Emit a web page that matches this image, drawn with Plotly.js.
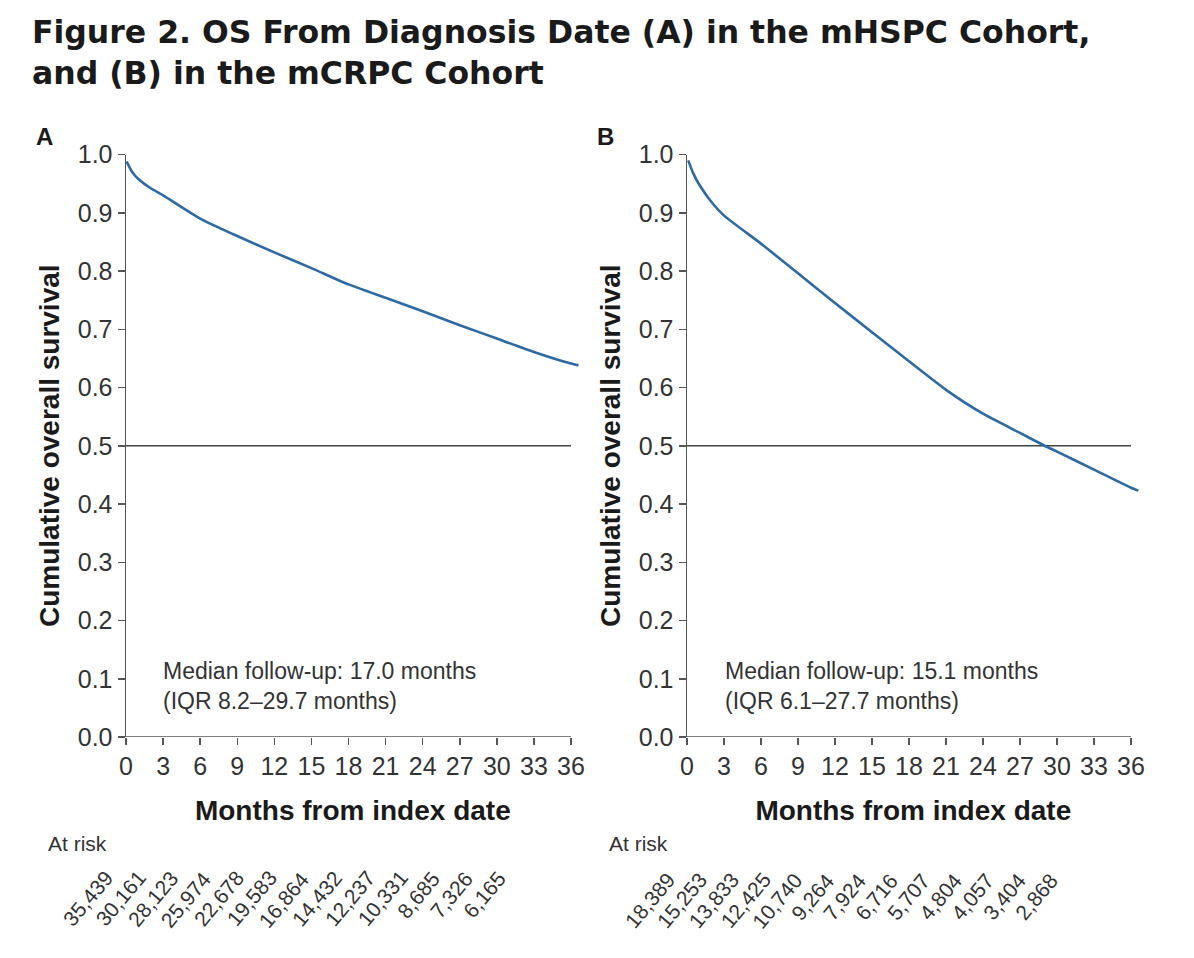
<!DOCTYPE html>
<html>
<head>
<meta charset="utf-8">
<script src="https://cdn.plot.ly/plotly-3.0.1.min.js"></script>
<style>
  html, body { margin: 0; padding: 0; background: #fff; }
  #chart { width: 1194px; height: 958px; }
</style>
</head>
<body>
<div id="chart"></div>
<script>
// ---- Data ----
const monthsA = [0.05, 0.5, 1, 2, 3, 6, 9, 12, 15, 18, 21, 24, 27, 30, 33, 36, 36.6];
const survivalA = [0.988, 0.970, 0.958, 0.942, 0.930, 0.890, 0.860, 0.832, 0.805, 0.777, 0.754, 0.731, 0.707, 0.684, 0.661, 0.641, 0.638];

const monthsB = [0.1, 0.5, 1, 2, 3, 6, 9, 12, 15, 18, 21, 24, 27, 29, 30, 33, 36, 36.6];
const survivalB = [0.99, 0.968, 0.948, 0.918, 0.895, 0.847, 0.796, 0.745, 0.695, 0.645, 0.596, 0.555, 0.522, 0.500, 0.490, 0.459, 0.428, 0.423];

const riskMonths = [0, 3, 6, 9, 12, 15, 18, 21, 24, 27, 30, 33, 36];
const atRiskA = ["35,439", "30,161", "28,123", "25,974", "22,678", "19,583", "16,864", "14,432", "12,237", "10,331", "8,685", "7,326", "6,165"];
const atRiskB = ["18,389", "15,253", "13,833", "12,425", "10,740", "9,264", "7,924", "6,716", "5,707", "4,804", "4,057", "3,404", "2,868"];

const medianRef = 0.5;
const xTickVals = [0, 3, 6, 9, 12, 15, 18, 21, 24, 27, 30, 33, 36];
const yTickVals = [0, 0.1, 0.2, 0.3, 0.4, 0.5, 0.6, 0.7, 0.8, 0.9, 1.0];

const panelLabels = ["A", "B"];
const noteA = "Median follow-up: 17.0 months<br>(IQR 8.2–29.7 months)";
const noteB = "Median follow-up: 15.1 months<br>(IQR 6.1–27.7 months)";
const titleText = "Figure 2. OS From Diagnosis Date (A) in the mHSPC Cohort,<br>and (B) in the mCRPC Cohort";

// ---- Page geometry ----
const W = 1194, H = 958;
const px = v => v / W;
const py = v => 1 - v / H;

const FONT = "Liberation Sans, Arial, Helvetica, sans-serif";
const TITLE_FONT = "DejaVu Sans, Liberation Sans, Arial, sans-serif";
const curveColor = "#2d6aa5";
const axisColor = "#555555";
const textColor = "#333333";

const traces = [
  { x: monthsA, y: survivalA, xaxis: "x", yaxis: "y", type: "scatter", mode: "lines",
    line: { color: curveColor, width: 2.6, shape: "spline", smoothing: 0.5 }, hoverinfo: "x+y", showlegend: false },
  { x: monthsB, y: survivalB, xaxis: "x2", yaxis: "y2", type: "scatter", mode: "lines",
    line: { color: curveColor, width: 2.6, shape: "spline", smoothing: 0.5 }, hoverinfo: "x+y", showlegend: false }
];

const xMax = 36.7;
function xAxis(domain, yAnchor) {
  return {
    domain: domain, range: [0, xMax], anchor: yAnchor,
    showline: false, zeroline: false, showgrid: false,
    tickmode: "array", tickvals: xTickVals, ticktext: xTickVals.map(String),
    ticks: "outside", ticklen: 7, tickwidth: 1.5, tickcolor: axisColor,
    tickfont: { family: FONT, size: 25, color: textColor },
    title: { text: "Months from index date", font: { family: FONT, size: 28, color: "#1a1a1a", weight: "bold" }, standoff: 21 },
    fixedrange: true
  };
}
function yAxis(domain, xAnchor) {
  return {
    domain: domain, range: [0, 1], anchor: xAnchor,
    showline: true, linecolor: axisColor, linewidth: 1.5, zeroline: false, showgrid: false,
    tickmode: "array", tickvals: yTickVals, ticktext: yTickVals.map(v => v.toFixed(1)),
    ticks: "outside", ticklen: 7, tickwidth: 1.5, tickcolor: axisColor,
    tickfont: { family: FONT, size: 25, color: textColor },
    title: { text: "Cumulative overall survival", font: { family: FONT, size: 28, color: "#1a1a1a", weight: "bold" }, standoff: 10 },
    fixedrange: true
  };
}

const yDom = [py(737), py(154.5)];
const xDomA = [px(126), px(126 + xMax * (445 / 36))];
const xDomB = [px(687), px(687 + xMax * (444 / 36))];

const annotations = [];
// panel labels
annotations.push({ xref: "paper", yref: "paper", x: px(45), y: py(137), text: panelLabels[0], showarrow: false,
  font: { family: FONT, size: 24, color: "#1a1a1a", weight: "bold" }, xanchor: "center", yanchor: "middle" });
annotations.push({ xref: "paper", yref: "paper", x: px(605), y: py(137), text: panelLabels[1], showarrow: false,
  font: { family: FONT, size: 24, color: "#1a1a1a", weight: "bold" }, xanchor: "center", yanchor: "middle" });
// notes
annotations.push({ xref: "paper", yref: "paper", x: px(161), y: py(686), text: noteA, showarrow: false, align: "left",
  font: { family: FONT, size: 23, color: textColor }, xanchor: "left", yanchor: "middle" });
annotations.push({ xref: "paper", yref: "paper", x: px(723), y: py(686), text: noteB, showarrow: false, align: "left",
  font: { family: FONT, size: 23, color: textColor }, xanchor: "left", yanchor: "middle" });
// "At risk" labels
annotations.push({ xref: "paper", yref: "paper", x: px(46), y: py(843), text: "At risk", showarrow: false,
  font: { family: FONT, size: 21, color: textColor }, xanchor: "left", yanchor: "middle" });
annotations.push({ xref: "paper", yref: "paper", x: px(607), y: py(843), text: "At risk", showarrow: false,
  font: { family: FONT, size: 21, color: textColor }, xanchor: "left", yanchor: "middle" });
// at-risk numbers, placed through hidden axes x3 / x4
riskMonths.forEach((m, i) => {
  annotations.push({ xref: "x3", yref: "paper", x: m, y: py(864), text: atRiskA[i], showarrow: false, textangle: -50,
    font: { family: FONT, size: 21, color: textColor }, xanchor: "right", yanchor: "top" });
  annotations.push({ xref: "x4", yref: "paper", x: m, y: py(866), text: atRiskB[i], showarrow: false, textangle: -50,
    font: { family: FONT, size: 21, color: textColor }, xanchor: "right", yanchor: "top" });
});

const shapes = [
  // x axis lines (0 to 36 only)
  { type: "line", xref: "x", yref: "y", x0: xTickVals[0], x1: xTickVals[xTickVals.length - 1], y0: 0, y1: 0, line: { color: axisColor, width: 1.5 } },
  { type: "line", xref: "x2", yref: "y2", x0: xTickVals[0], x1: xTickVals[xTickVals.length - 1], y0: 0, y1: 0, line: { color: axisColor, width: 1.5 } },
  // median reference lines
  { type: "line", xref: "x", yref: "y", x0: xTickVals[0], x1: xTickVals[xTickVals.length - 1], y0: medianRef, y1: medianRef, line: { color: "#444444", width: 1.5 }, layer: "below" },
  { type: "line", xref: "x2", yref: "y2", x0: xTickVals[0], x1: xTickVals[xTickVals.length - 1], y0: medianRef, y1: medianRef, line: { color: "#444444", width: 1.5 }, layer: "below" }
];

const layout = {
  width: W, height: H,
  margin: { l: 0, r: 0, t: 0, b: 0 },
  paper_bgcolor: "#ffffff", plot_bgcolor: "rgba(0,0,0,0)",
  font: { family: FONT, color: textColor },
  title: { text: titleText, x: px(32), xanchor: "left", xref: "paper", yref: "paper", y: py(43), yanchor: "middle",
    font: { family: TITLE_FONT, size: 31.5, color: "#1a1a1a", weight: "bold" } },
  xaxis: xAxis(xDomA, "y"),
  yaxis: yAxis(yDom, "x"),
  xaxis2: xAxis(xDomB, "y2"),
  yaxis2: yAxis(yDom, "x2"),
  xaxis3: { domain: [px(120), px(513)], range: [0, 36], anchor: "free", position: 0, visible: false, fixedrange: true },
  xaxis4: { domain: [px(682), px(1065)], range: [0, 36], anchor: "free", position: 0, visible: false, fixedrange: true },
  annotations: annotations,
  shapes: shapes,
  showlegend: false
};

Plotly.newPlot("chart", traces, layout, { displayModeBar: false, staticPlot: true });
</script>
</body>
</html>
